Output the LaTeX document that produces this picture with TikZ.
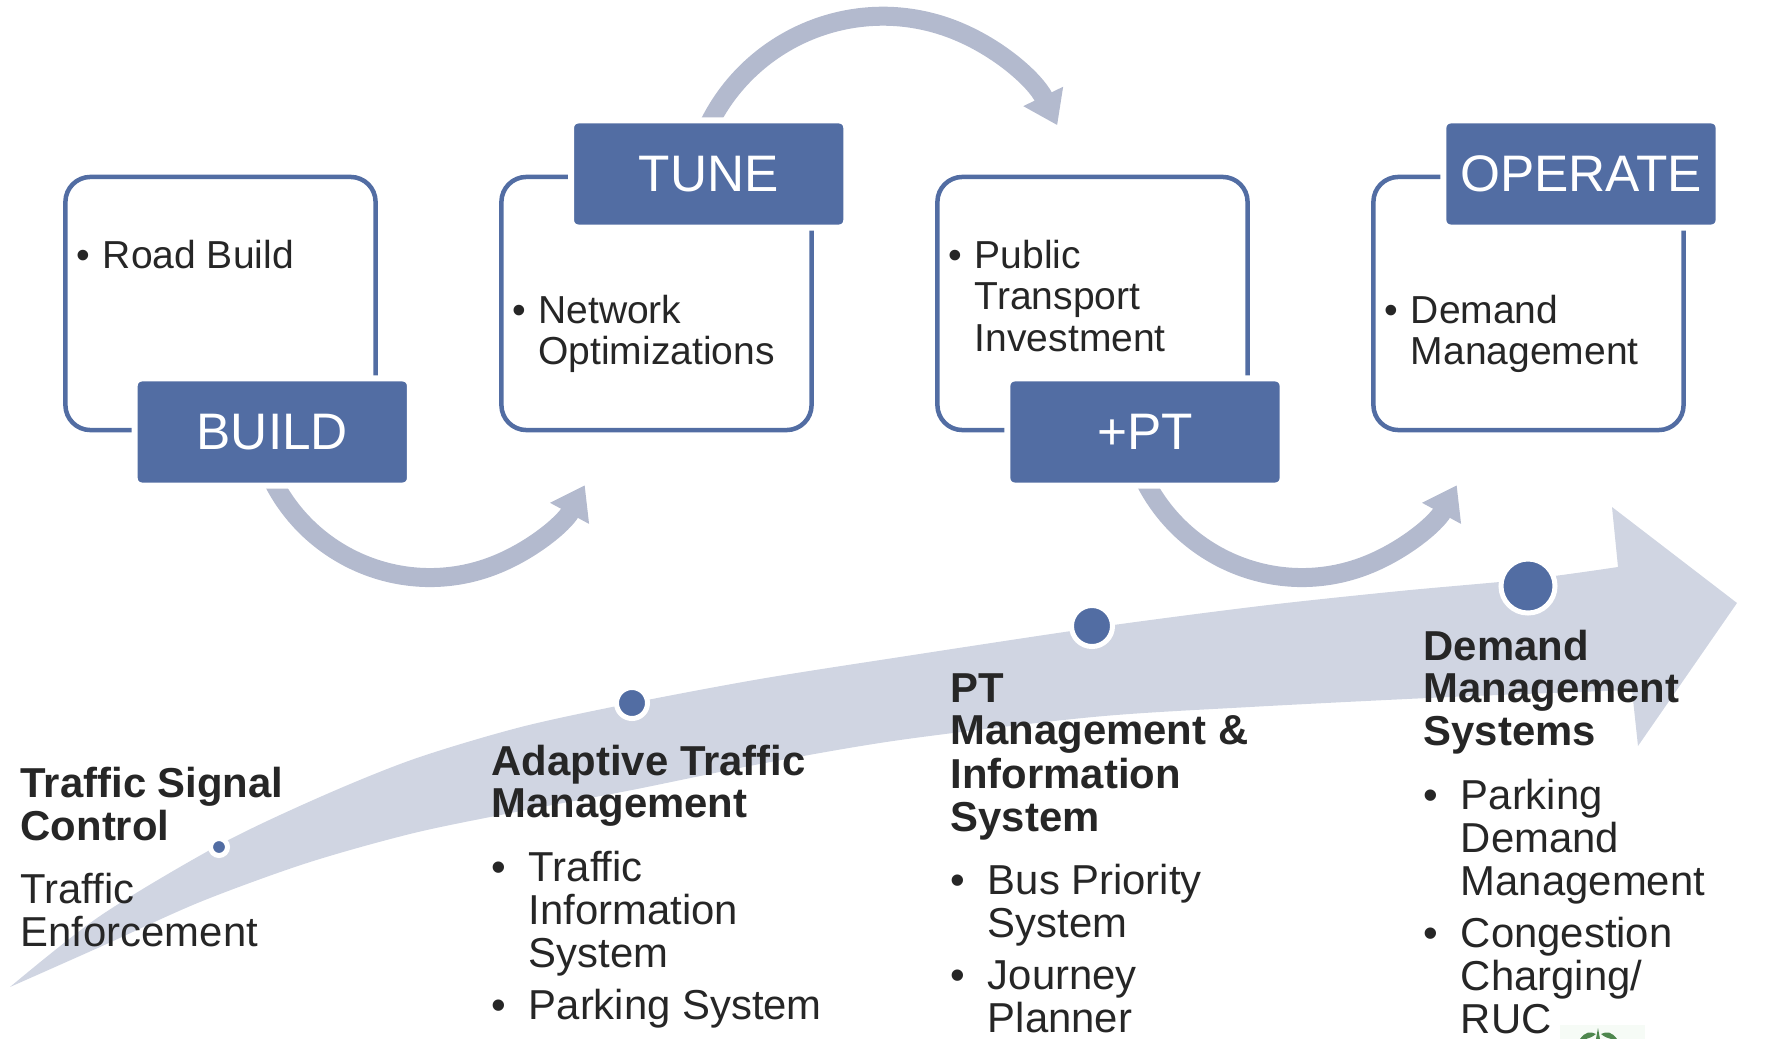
\documentclass[tikz,border=0pt]{standalone}
\usepackage{fontspec}
\setmainfont{Liberation Sans}
\usetikzlibrary{arrows.meta}
\definecolor{stageblue}{RGB}{82,109,163}
\definecolor{loopgray}{RGB}{179,186,206}
\definecolor{bandgray}{RGB}{208,213,226}
\definecolor{inkgray}{RGB}{38,38,38}
\definecolor{leafgreen}{RGB}{78,135,78}
\definecolor{leafpale}{RGB}{246,251,246}
\newcommand{\hd}[1]{\multicolumn{2}{@{}l@{}}{\bfseries #1}}
\begin{document}
\begin{tikzpicture}[x=0.01cm, y=0.01cm,
  stagebox/.style={draw=stageblue, line width=0.045cm, rounded corners=0.25cm,
    minimum width=3.10cm, minimum height=2.53cm},
  stagetag/.style={fill=stageblue, draw=white, line width=0.06cm,
    rounded corners=0.07cm, minimum width=2.75cm, minimum height=1.07cm,
    text=white, font=\fontsize{14.6}{16}\selectfont},
  boxtext/.style={anchor=base west, inner sep=0pt, text=inkgray,
    font=\fontsize{11.1}{11.9}\selectfont},
  coltext/.style={anchor=base west, inner sep=0pt, text=inkgray,
    font=\fontsize{11.9}{12.2}\selectfont},
  cyclearrow/.style={draw=loopgray, line width=0.19cm,
    -{Triangle[width=0.42cm, length=0.32cm]}},
  stagedot/.style={circle, fill=stageblue, draw=white, line width=0.05cm,
    inner sep=0pt}]
  \useasboundingbox (0,0) rectangle (1768,-1039);

  % rising band
  \fill[bandgray] plot[smooth, tension=0.5] coordinates {(10,-987) (100,-916)
      (219,-845) (320,-797) (414,-759) (521,-727) (632,-703) (760,-679)
      (900,-657) (1092,-628) (1260,-606) (1400,-591) (1530,-579) (1618,-567)}
    -- (1612,-507) -- (1737,-603) -- (1638,-746)
    -- plot[smooth, tension=0.5] coordinates {(1632,-690) (1450,-697)
      (1250,-707) (1093,-717) (900,-740) (760,-764) (632,-790) (521,-811)
      (414,-833) (307,-863) (200,-902) (100,-947) (10,-987)} -- cycle;

  % loop arrows
  \coordinate (a1) at (264.6,-461.7);
  \coordinate (a2) at (700.6,-143.9);
  \coordinate (a3) at (1136.6,-461.7);
  \draw[cyclearrow] (a1) arc[start angle=200, end angle=331.6, radius=176];
  \draw[cyclearrow] (a2) arc[start angle=160, end angle=26, radius=194];
  \draw[cyclearrow] (a3) arc[start angle=200, end angle=331.6, radius=176];

  % stages
  \node[stagebox] (b1) at (220.5,-303.5) {};
  \node[stagebox] (b2) at (656.5,-303.5) {};
  \node[stagebox] (b3) at (1092.5,-303.5) {};
  \node[stagebox] (b4) at (1528.5,-303.5) {};
  \node[stagetag] (build) at (272.3,-432) {BUILD};
  \node[stagetag] (tune) at (708.7,-174) {TUNE};
  \node[stagetag] (pt) at (1145,-432) {+PT};
  \node[stagetag] (operate) at (1581,-174) {OPERATE};

  \node[boxtext] (t1) at (76,-268) {%
    \begin{tabular}[t]{@{}l@{\hspace{0.125cm}}l@{}}
      \textbullet & Road Build
    \end{tabular}};
  \node[boxtext] (t2) at (511.5,-323) {%
    \begin{tabular}[t]{@{}l@{\hspace{0.125cm}}l@{}}
      \textbullet & Network\\
                  & Optimizations
    \end{tabular}};
  \node[boxtext] (t3) at (948,-268) {%
    \begin{tabular}[t]{@{}l@{\hspace{0.125cm}}l@{}}
      \textbullet & Public\\
                  & Transport\\
                  & Investment
    \end{tabular}};
  \node[boxtext] (t4) at (1384,-323) {%
    \begin{tabular}[t]{@{}l@{\hspace{0.125cm}}l@{}}
      \textbullet & Demand\\
                  & Management
    \end{tabular}};

  % milestones
  \node[stagedot, minimum size=0.17cm] (m1) at (219,-847) {};
  \node[stagedot, minimum size=0.31cm] (m2) at (632,-703) {};
  \node[stagedot, minimum size=0.41cm] (m3) at (1092,-626) {};
  \node[stagedot, minimum size=0.54cm] (m4) at (1528,-586) {};

  \node[coltext] (c1) at (20,-797) {%
    \begin{tabular}[t]{@{}l@{}}
      \bfseries Traffic Signal\\
      \bfseries Control\\[0.2cm]
      Traffic\\
      Enforcement
    \end{tabular}};
  \node[coltext] (c2) at (491,-775) {%
    \begin{tabular}[t]{@{}l@{\hspace{0.225cm}}l@{}}
      \hd{Adaptive Traffic}\\
      \hd{Management}\\[0.2cm]
      \textbullet & Traffic\\
                  & Information\\
                  & System\\[0.09cm]
      \textbullet & Parking System
    \end{tabular}};
  \node[coltext] (c3) at (950,-702) {%
    \begin{tabular}[t]{@{}l@{\hspace{0.225cm}}l@{}}
      \hd{PT}\\
      \hd{Management \&}\\
      \hd{Information}\\
      \hd{System}\\[0.2cm]
      \textbullet & Bus Priority\\
                  & System\\[0.09cm]
      \textbullet & Journey\\
                  & Planner
    \end{tabular}};
  \node[coltext] (c4) at (1423,-660) {%
    \begin{tabular}[t]{@{}l@{\hspace{0.225cm}}l@{}}
      \hd{Demand}\\
      \hd{Management}\\
      \hd{Systems}\\[0.2cm]
      \textbullet & Parking\\
                  & Demand\\
                  & Management\\[0.09cm]
      \textbullet & Congestion\\
                  & Charging/\\
                  & RUC
    \end{tabular}};

  % plant at the lower edge
  \fill[leafpale] (1560,-1025) rectangle (1645,-1039);
  \fill[leafgreen] (1598,-1028) -- (1596,-1039) -- (1600,-1039) -- cycle;
  \fill[leafgreen] (1580,-1039) .. controls (1585,-1032) and (1590,-1031) .. (1596,-1034)
    .. controls (1592,-1037) .. (1586,-1039) -- cycle;
  \fill[leafgreen] (1617,-1039) .. controls (1612,-1032) and (1607,-1031) .. (1601,-1034)
    .. controls (1605,-1037) .. (1611,-1039) -- cycle;
\end{tikzpicture}
\end{document}
